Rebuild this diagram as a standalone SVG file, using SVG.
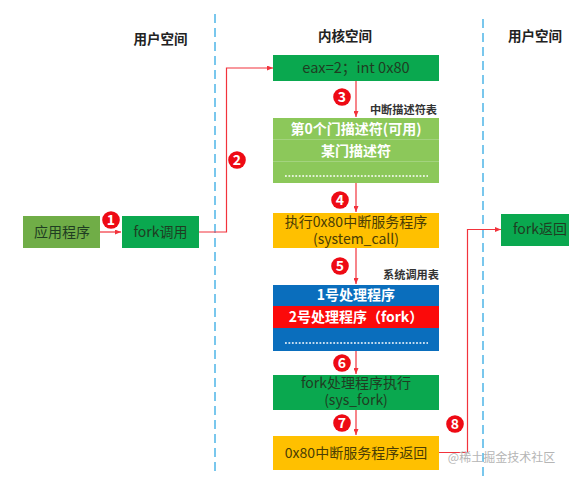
<svg xmlns="http://www.w3.org/2000/svg" width="569" height="479" viewBox="0 0 569 479">
<style>
text{font-family:"Noto Sans CJK SC","Noto Sans",sans-serif;text-anchor:middle}
.t{font-size:14px;fill:#1f3d22}
.y{font-size:14px;fill:#4a3d05}
.w{font-size:14px;fill:#fff;font-weight:700}
.h{font-size:13.500px;font-weight:700;fill:#222}
.s{font-size:11.200px;font-weight:700;fill:#333}
.n{font-size:14px;font-weight:700;fill:#fff}
.c{fill:none;stroke:#f2333c;stroke-width:1.200}
.d{fill:none;stroke:#4db5e8;stroke-width:1.500;stroke-dasharray:9 5}
.b{fill:#ee0a14}
.dots{fill:none;stroke:#fff;stroke-width:1.600;stroke-dasharray:1.800 1.650}
</style>
<defs><marker id="a" markerUnits="userSpaceOnUse" markerWidth="6" markerHeight="5" refX="6" refY="2.500" orient="auto"><path d="M0 0L6 2.500L0 5z" fill="#f2333c"/></marker></defs>
<rect width="569" height="479" fill="#fff"/>
<g id="dividers">
<line class="d" x1="215" y1="14" x2="215" y2="474"/>
<line class="d" x1="483" y1="19" x2="483" y2="479"/>
</g>
<g id="headers">
<text class="h" x="160.500" y="44">用户空间</text>
<text class="h" x="345" y="41">内核空间</text>
<text class="h" x="535" y="41">用户空间</text>
<text class="s" x="403.500" y="114">中断描述符表</text>
<text class="s" x="411" y="279">系统调用表</text>
</g>
<g id="connectors">
<path class="c" marker-end="url(#a)" d="M100 232H121"/>
<path class="c" marker-end="url(#a)" d="M199 232H226.500V68H273"/>
<path class="c" marker-end="url(#a)" d="M356 81V117"/>
<path class="c" marker-end="url(#a)" d="M356 183V212"/>
<path class="c" marker-end="url(#a)" d="M356 248V284"/>
<path class="c" marker-end="url(#a)" d="M356 350V374"/>
<path class="c" marker-end="url(#a)" d="M356 409V435"/>
<path class="c" marker-end="url(#a)" d="M439 452.500H467.500V229.500H501"/>
</g>
<g id="node-app"><rect x="23" y="216" width="77" height="32" fill="#70ad47"/><text class="t" x="62" y="237">应用程序</text></g>
<g id="node-fork-call"><rect x="122" y="216" width="77" height="32" fill="#0aa84f"/><text class="t" x="160.500" y="237">fork调用</text></g>
<g id="node-eax"><rect x="273" y="55" width="166" height="26" fill="#0aa84f"/><text class="t" x="356" y="73" style="font-size:14.600px">eax=2；int 0x80</text></g>
<g id="node-idt">
<rect x="273" y="118" width="166" height="65" fill="#8cc85a"/>
<path d="M273 139.500H439M273 161.500H439" stroke="#a3d37e" stroke-width="1"/>
<text class="w" x="356" y="134">第0个门描述符(可用)</text>
<text class="w" x="356" y="156">某门描述符</text>
<line class="dots" x1="285" y1="176" x2="428" y2="176"/>
</g>
<g id="node-system-call"><rect x="273" y="213" width="166" height="35" fill="#ffc000"/><text class="y" x="356"><tspan x="356" y="227">执行0x80中断服务程序</tspan><tspan x="356" y="244">(system_call)</tspan></text></g>
<g id="node-syscall-table">
<rect x="273" y="285" width="166" height="66" fill="#0a6ebd"/>
<rect x="273" y="306" width="166" height="22" fill="#fb0a0a"/>
<text class="w" x="356" y="300">1号处理程序</text>
<text class="w" x="356" y="322">2号处理程序（fork）</text>
<line class="dots" x1="285" y1="343" x2="428" y2="343"/>
</g>
<g id="node-sys-fork"><rect x="273" y="375" width="166" height="35" fill="#0aa84f"/><text class="t" x="356"><tspan x="356" y="388">fork处理程序执行</tspan><tspan x="356" y="405">(sys_fork)</tspan></text></g>
<g id="node-return"><rect x="273" y="436" width="166" height="34" fill="#ffc000"/><text class="y" x="356" y="458">0x80中断服务程序返回</text></g>
<g id="node-fork-return"><rect x="501" y="214" width="68" height="32" fill="#0aa84f"/><text class="t" x="540" y="234">fork返回</text></g>
<g id="badges">
<circle class="b" cx="111" cy="220" r="8.800"/><text class="n" x="111" y="225">1</text>
<circle class="b" cx="237" cy="160" r="8.800"/><text class="n" x="237" y="165">2</text>
<circle class="b" cx="342" cy="97" r="8.800"/><text class="n" x="342" y="102">3</text>
<circle class="b" cx="340" cy="200" r="8.800"/><text class="n" x="340" y="205">4</text>
<circle class="b" cx="340" cy="266" r="8.800"/><text class="n" x="340" y="271">5</text>
<circle class="b" cx="342" cy="363" r="8.800"/><text class="n" x="342" y="368">6</text>
<circle class="b" cx="342" cy="423" r="8.800"/><text class="n" x="342" y="428">7</text>
<circle class="b" cx="455" cy="424" r="8.800"/><text class="n" x="455" y="429">8</text>
</g>
<g id="watermark"><text x="501.500" y="462" style="font-size:12px;fill:#b5b5b5">@稀土掘金技术社区</text></g>
</svg>
